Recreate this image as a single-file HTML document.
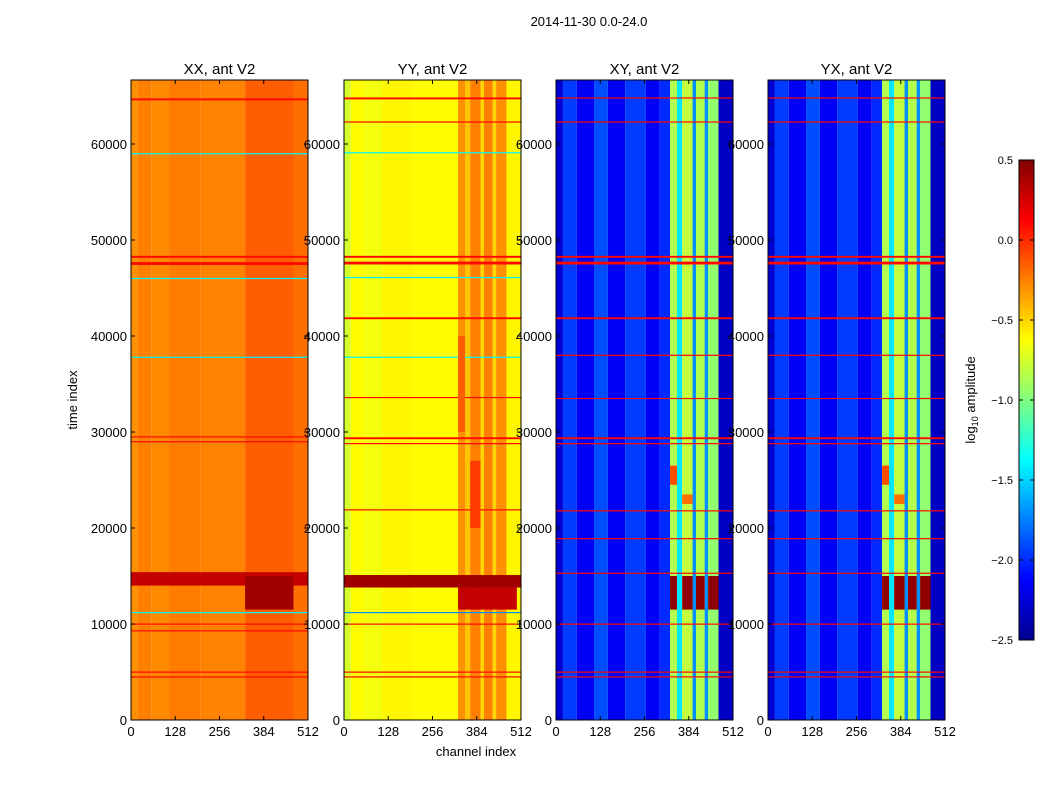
<!DOCTYPE html>
<html><head><meta charset="utf-8"><style>
body{margin:0;background:#fff;}
svg text{font-family:"Liberation Sans",sans-serif;fill:#000;}
</style></head><body>
<svg id="fig" width="1050" height="800" xmlns="http://www.w3.org/2000/svg">
<defs>
<linearGradient id="jet" x1="0" y1="1" x2="0" y2="0">
<stop offset="0" stop-color="#00008f"/><stop offset="0.125" stop-color="#0000ff"/><stop offset="0.375" stop-color="#00ffff"/><stop offset="0.625" stop-color="#ffff00"/><stop offset="0.875" stop-color="#ff0000"/><stop offset="1" stop-color="#800000"/>
</linearGradient>
</defs>
<text x="589" y="26" font-size="13" text-anchor="middle">2014-11-30 0.0-24.0</text>
<text transform="translate(77,400) rotate(-90)" font-size="13" text-anchor="middle">time index</text>
<text x="476" y="756" font-size="13" text-anchor="middle">channel index</text>
<g id="panels"></g>
<g>
<rect x="1019" y="160" width="15" height="480" fill="url(#jet)" stroke="#000" stroke-width="1"/>
<g id="cbticks"></g>
<text transform="translate(975,400) rotate(-90)" font-size="13" text-anchor="middle">log<tspan font-size="9" dy="3">10</tspan><tspan dy="-3"> amplitude</tspan></text>
</g>
</svg>
<script>
// Data
const panelTitles = ["XX, ant V2","YY, ant V2","XY, ant V2","YX, ant V2"];
const xTicks = [0,128,256,384,512];
const yTicks = [0,10000,20000,30000,40000,50000,60000];
const cbTicks = [0.5,0.0,-0.5,-1.0,-1.5,-2.0,-2.5];
// channel profiles: [chStart, chEnd, log10 amplitude]
const profXX = [[0,20,-0.3],[20,60,-0.25],[60,110,-0.28],[110,200,-0.24],[200,330,-0.26],[330,470,-0.15],[470,512,-0.2]];
const profYY = [[0,20,-0.75],[20,60,-0.62],[60,110,-0.66],[110,200,-0.6],[200,330,-0.62],[330,350,-0.3],[350,365,-0.45],[365,395,-0.25],[395,405,-0.5],[405,430,-0.25],[430,440,-0.5],[440,470,-0.3],[470,512,-0.6]];
const profXY = [[0,20,-2.25],[20,60,-1.95],[60,110,-2.15],[110,150,-1.9],[150,200,-2.15],[200,260,-1.95],[260,300,-2.15],[300,330,-2.0],[330,350,-0.85],[350,365,-1.45],[365,395,-0.8],[395,405,-1.7],[405,430,-0.85],[430,440,-1.7],[440,470,-0.95],[470,512,-2.3]];
// horizontal bands: [tStart, tEnd, value]
const bandsXX = [[4450,4550,0.1],[4950,5050,0.1],[9250,9350,0.1],[9950,10050,0.1],[11150,11250,-1.4],[14000,15400,0.3],[28950,29050,0.1],[29450,29550,0.1],[37750,37850,-1.4],[45950,46050,-1.4],[47400,47700,0.1],[48150,48350,0.1],[58950,59050,-1.4],[64550,64750,0.1]];
const bandsYY = [[4450,4550,0.1],[4950,5050,0.1],[9950,10050,0.1],[11150,11250,-1.7],[13800,15100,0.4],[21850,21950,0.1],[28750,28850,0.1],[29250,29450,0.1],[33550,33650,0.1],[37750,37850,-1.4],[41750,41950,0.1],[46050,46150,-1.4],[47450,47750,0.1],[48150,48350,0.1],[59050,59150,-1.4],[62250,62350,0.1],[64650,64850,0.1]];
const bandsXY = [[4450,4550,0.1],[4950,5050,0.1],[9950,10050,0.1],[15250,15350,0.1],[18850,18950,0.1],[21750,21850,0.1],[28750,28850,0.1],[29250,29450,0.1],[33450,33550,0.1],[37950,38050,0.1],[41750,41950,0.1],[47450,47750,0.1],[48150,48350,0.1],[62250,62350,0.1],[64750,64850,0.1]];
// blocks: [tStart, tEnd, chStart, chEnd, value]
const blocksXX = [[11500,15000,330,470,0.4]];
const blocksYY = [[11500,13800,330,500,0.3],[20000,27000,365,395,-0.05],[30000,40000,330,350,-0.15]];
const blocksXY = [[11500,15000,330,350,0.45],[11500,15000,365,395,0.45],[11500,15000,405,430,0.45],[11500,15000,440,470,0.45],[24500,26500,330,350,-0.1],[22500,23500,365,395,-0.2]];
const panels = [
 {x:131,prof:profXX,bands:bandsXX,blocks:blocksXX},
 {x:344,prof:profYY,bands:bandsYY,blocks:blocksYY},
 {x:556,prof:profXY,bands:bandsXY,blocks:blocksXY},
 {x:768,prof:profXY,bands:bandsXY,blocks:blocksXY}];
const W=177, TOP=80, BOT=720, TMAX=66667, VMIN=-2.5, VMAX=0.5;
const NS="http://www.w3.org/2000/svg";
function jet(v){let f=(v-VMIN)/(VMAX-VMIN);f=Math.max(0,Math.min(1,f));
 const c=x=>Math.round(255*Math.max(0,Math.min(1,1.5-Math.abs(x))));
 return `rgb(${c(4*f-3)},${c(4*f-2)},${c(4*f-1)})`;}
function el(tag,attrs,parent){const e=document.createElementNS(NS,tag);for(const k in attrs)e.setAttribute(k,attrs[k]);parent.appendChild(e);return e;}
const root=document.getElementById('panels');
panels.forEach((p,i)=>{
 const xs=c=>p.x+c/512*W, ys=t=>BOT-t/TMAX*(BOT-TOP);
 const g=el('g',{},root);
 
 
 p.prof.forEach(s=>{const r=el('rect',{x:xs(s[0]),y:TOP,width:xs(s[1])-xs(s[0]),height:BOT-TOP,fill:jet(s[2])},g);
  
  });
 p.bands.forEach(b=>{const r=el('rect',{x:p.x,y:ys(b[1]),width:W,height:Math.max(1.2,ys(b[0])-ys(b[1])),fill:jet(b[2])},g);
  
  });
 p.blocks.forEach(b=>{const r=el('rect',{x:xs(b[2]),y:ys(b[1]),width:xs(b[3])-xs(b[2]),height:ys(b[0])-ys(b[1]),fill:jet(b[4])},g);
  
  });
 const fr=el('rect',{x:p.x,y:TOP,width:W,height:BOT-TOP,fill:'none',stroke:'#000','stroke-width':1},g);
 
 
 const t=el('text',{x:p.x+W/2,y:74,'font-size':15,'text-anchor':'middle'},g);t.textContent=panelTitles[i];
 
 
 xTicks.forEach(v=>{const x=xs(v);el('line',{x1:x,x2:x,y1:BOT,y2:BOT-4,stroke:'#000'},g);el('line',{x1:x,x2:x,y1:TOP,y2:TOP+4,stroke:'#000'},g);
  const l=el('text',{x:x,y:BOT+16,'font-size':13,'text-anchor':'middle'},g);l.textContent=v;
  
  });
 yTicks.forEach(v=>{const y=ys(v);el('line',{x1:p.x,x2:p.x+4,y1:y,y2:y,stroke:'#000'},g);el('line',{x1:p.x+W,x2:p.x+W-4,y1:y,y2:y,stroke:'#000'},g);
  const l=el('text',{x:p.x-4,y:y+5,'font-size':13,'text-anchor':'end'},g);l.textContent=v;
  
  });
});
const cb=document.getElementById('cbticks');
cbTicks.forEach(v=>{const y=640-(v-VMIN)/(VMAX-VMIN)*480;
 el('line',{x1:1019,x2:1023,y1:y,y2:y,stroke:'#000'},cb);el('line',{x1:1030,x2:1034,y1:y,y2:y,stroke:'#000'},cb);
 const l=el('text',{x:1013,y:y+4,'font-size':11,'text-anchor':'end'},cb);l.textContent=(v<0?'\u2212':'')+Math.abs(v).toFixed(1);
 
 });
</script>
</body></html>
